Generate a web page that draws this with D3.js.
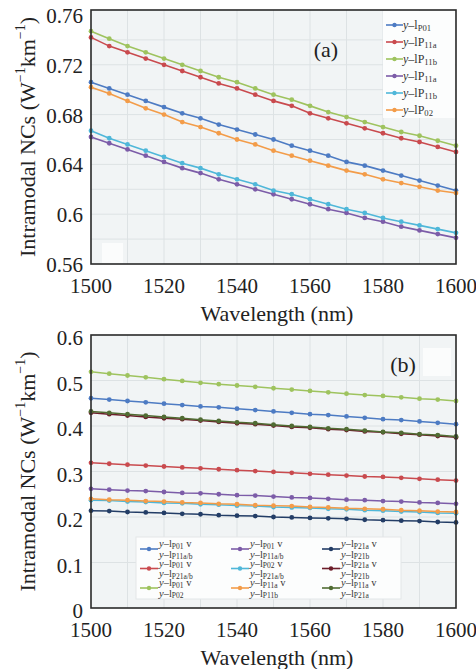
<!DOCTYPE html>
<html>
<head>
<meta charset="utf-8">
<script src="https://cdn.jsdelivr.net/npm/d3@7"></script>
</head>
<body style="margin:0; background:#fff">
<svg id="chart" width="476" height="669" style="display:block"></svg>
<script>
// wavelength samples (nm)
const wavelength = [1500, 1505, 1510, 1515, 1520, 1525, 1530, 1535, 1540, 1545, 1550,
  1555, 1560, 1565, 1570, 1575, 1580, 1585, 1590, 1595, 1600];
const xTicks = [1500, 1520, 1540, 1560, 1580, 1600];
const yTicksA = [0.56, 0.6, 0.64, 0.68, 0.72, 0.76];
const yTicksB = [0, 0.1, 0.2, 0.3, 0.4, 0.5, 0.6];

// panel (a)
const a_P01 = [0.706, 0.701, 0.696, 0.691, 0.686, 0.681, 0.677, 0.672, 0.668, 0.664, 0.660,
  0.655, 0.651, 0.647, 0.642, 0.639, 0.635, 0.631, 0.627, 0.623, 0.619];
const a_P11a = [0.742, 0.735, 0.730, 0.725, 0.720, 0.715, 0.710, 0.705, 0.701, 0.696, 0.691,
  0.687, 0.681, 0.677, 0.673, 0.669, 0.665, 0.661, 0.658, 0.654, 0.650];
const a_P11b = [0.747, 0.741, 0.735, 0.730, 0.725, 0.720, 0.715, 0.710, 0.706, 0.701, 0.696,
  0.692, 0.687, 0.682, 0.678, 0.674, 0.670, 0.666, 0.663, 0.659, 0.655];
const a_P11a2 = [0.662, 0.657, 0.652, 0.647, 0.642, 0.637, 0.633, 0.628, 0.624, 0.620, 0.616,
  0.612, 0.608, 0.604, 0.601, 0.597, 0.594, 0.590, 0.587, 0.584, 0.581];
const a_P11b2 = [0.667, 0.661, 0.656, 0.651, 0.646, 0.641, 0.637, 0.632, 0.628, 0.624, 0.619,
  0.616, 0.612, 0.608, 0.604, 0.601, 0.597, 0.594, 0.591, 0.588, 0.585];
const a_P02 = [0.702, 0.697, 0.691, 0.685, 0.680, 0.674, 0.670, 0.665, 0.660, 0.656, 0.651,
  0.647, 0.643, 0.639, 0.635, 0.632, 0.628, 0.625, 0.622, 0.619, 0.617];

// panel (b)
const b_P01_P11ab = [0.461, 0.458, 0.455, 0.452, 0.449, 0.446, 0.443, 0.441, 0.438, 0.435, 0.432,
  0.429, 0.426, 0.424, 0.421, 0.418, 0.415, 0.413, 0.410, 0.407, 0.404];
const b_P01_P21ab = [0.319, 0.317, 0.315, 0.313, 0.311, 0.309, 0.307, 0.305, 0.303, 0.301, 0.299,
  0.297, 0.295, 0.293, 0.291, 0.289, 0.288, 0.286, 0.284, 0.282, 0.280];
const b_P01_P02 = [0.519, 0.515, 0.511, 0.507, 0.503, 0.499, 0.495, 0.492, 0.489, 0.486, 0.483,
  0.480, 0.477, 0.474, 0.471, 0.468, 0.466, 0.463, 0.460, 0.458, 0.455];
const b_P01_P11ab2 = [0.262, 0.260, 0.258, 0.257, 0.255, 0.253, 0.252, 0.250, 0.248, 0.247, 0.245,
  0.243, 0.242, 0.240, 0.238, 0.237, 0.235, 0.234, 0.232, 0.231, 0.229];
const b_P02_P21ab = [0.237, 0.236, 0.234, 0.233, 0.231, 0.230, 0.228, 0.227, 0.225, 0.224, 0.222,
  0.221, 0.220, 0.218, 0.217, 0.215, 0.214, 0.212, 0.211, 0.209, 0.208];
const b_P11a_P11b = [0.240, 0.238, 0.237, 0.235, 0.234, 0.232, 0.231, 0.229, 0.228, 0.226, 0.225,
  0.224, 0.222, 0.221, 0.219, 0.218, 0.217, 0.215, 0.214, 0.212, 0.211];
const b_P21a_P21b = [0.214, 0.213, 0.211, 0.210, 0.209, 0.207, 0.206, 0.204, 0.203, 0.202, 0.200,
  0.199, 0.198, 0.197, 0.196, 0.194, 0.193, 0.192, 0.191, 0.189, 0.188];
const b_P21a_P21b2 = [0.429, 0.426, 0.423, 0.420, 0.417, 0.415, 0.412, 0.409, 0.406, 0.404, 0.401,
  0.398, 0.396, 0.393, 0.391, 0.388, 0.386, 0.383, 0.381, 0.378, 0.375];
const b_P11a_P21a = [0.432, 0.429, 0.426, 0.423, 0.420, 0.417, 0.414, 0.411, 0.408, 0.406, 0.403,
  0.400, 0.398, 0.395, 0.393, 0.390, 0.387, 0.385, 0.382, 0.380, 0.377];

// legend labels
const legendA = [["l", "P01"], ["lP", "11a"], ["lP", "11b"], ["lP", "11a"], ["lP", "11b"], ["lP", "02"]];
const legendB = [["P01", "P11a/b"], ["P01", "P21a/b"], ["P01", "P02"],
  ["P01", "P11a/b"], ["P02", "P21a/b"], ["P11a", "P11b"],
  ["P21a", "P21b"], ["P21a", "P21b"], ["P11a", "P21a"]];

const C = {
  blue: "#4d7bc3", red: "#c94a4e", green: "#9ec35e", purple: "#7c5ca8",
  cyan: "#4fb7d9", orange: "#f39c49", navy: "#233d66", darkred: "#6c1d2a", olive: "#506c33"
};

const seriesA = [
  {values: a_P01, color: C.blue, label: legendA[0]},
  {values: a_P11a, color: C.red, label: legendA[1]},
  {values: a_P11b, color: C.green, label: legendA[2]},
  {values: a_P11a2, color: C.purple, label: legendA[3]},
  {values: a_P11b2, color: C.cyan, label: legendA[4]},
  {values: a_P02, color: C.orange, label: legendA[5]}
];
const seriesB = [
  {values: b_P01_P11ab, color: C.blue, label: legendB[0]},
  {values: b_P01_P21ab, color: C.red, label: legendB[1]},
  {values: b_P01_P02, color: C.green, label: legendB[2]},
  {values: b_P01_P11ab2, color: C.purple, label: legendB[3]},
  {values: b_P02_P21ab, color: C.cyan, label: legendB[4]},
  {values: b_P11a_P11b, color: C.orange, label: legendB[5]},
  {values: b_P21a_P21b, color: C.navy, label: legendB[6]},
  {values: b_P21a_P21b2, color: C.darkred, label: legendB[7]},
  {values: b_P11a_P21a, color: C.olive, label: legendB[8]}
];

const svg = d3.select("#chart");
const left = 91, right = 456;
const x = d3.scaleLinear().domain([1500, 1600]).range([left, right]);

function drawPanel(cfg) {
  const y = d3.scaleLinear().domain(cfg.yDomain).range([cfg.bottom, cfg.top]);
  const g = svg.append("g");

  g.append("rect")
    .attr("x", left).attr("y", cfg.top)
    .attr("width", right - left).attr("height", cfg.bottom - cfg.top)
    .attr("fill", "#f1f4f5");

  // white patches in the original scan
  cfg.patches.forEach(p => {
    g.append("rect").attr("x", p[0]).attr("y", p[1]).attr("width", p[2]).attr("height", p[3])
      .attr("fill", "#fbfcfc");
  });

  g.selectAll("line.vgrid")
    .data(d3.range(1510, 1600, 10))
    .join("line")
    .attr("x1", d => x(d)).attr("x2", d => x(d))
    .attr("y1", cfg.top).attr("y2", cfg.bottom)
    .attr("stroke", "#dde2e4").attr("stroke-width", 1);

  g.selectAll("line.hgrid")
    .data(cfg.grid)
    .join("line")
    .attr("x1", left).attr("x2", right)
    .attr("y1", d => y(d)).attr("y2", d => y(d))
    .attr("stroke", "#dde2e4").attr("stroke-width", 1);

  const line = d3.line().x((d, i) => x(wavelength[i])).y(d => y(d));

  cfg.series.forEach(s => {
    g.append("path")
      .attr("d", line(s.values))
      .attr("fill", "none")
      .attr("stroke", s.color)
      .attr("stroke-width", cfg.lw);
    g.selectAll(null)
      .data(s.values)
      .join("circle")
      .attr("cx", (d, i) => x(wavelength[i]))
      .attr("cy", d => y(d))
      .attr("r", 2.4)
      .attr("fill", s.color);
  });

  g.append("rect")
    .attr("x", left).attr("y", cfg.top)
    .attr("width", right - left).attr("height", cfg.bottom - cfg.top)
    .attr("fill", "none").attr("stroke", "#2a2a2a").attr("stroke-width", 1.6);

  // y tick labels
  g.selectAll("text.ytick")
    .data(cfg.yTicks)
    .join("text")
    .attr("x", left - 8)
    .attr("y", d => y(d) + cfg.yLabelShift)
    .attr("text-anchor", "end")
    .attr("dominant-baseline", "central")
    .attr("font-size", 21)
    .attr("fill", "#222")
    .text(d => cfg.fmt(d));

  // x tick labels
  g.selectAll("text.xtick")
    .data(xTicks)
    .join("text")
    .attr("x", d => x(d))
    .attr("y", cfg.bottom + 22)
    .attr("text-anchor", "middle")
    .attr("dominant-baseline", "central")
    .attr("font-size", 21)
    .attr("fill", "#222")
    .text(d => d);

  g.append("text")
    .attr("x", 277)
    .attr("y", cfg.bottom + 49)
    .attr("text-anchor", "middle")
    .attr("dominant-baseline", "central")
    .attr("font-size", 22)
    .attr("fill", "#222")
    .text("Wavelength (nm)");

  const yt = g.append("text")
    .attr("transform", `translate(27,${(cfg.top + cfg.bottom) / 2}) rotate(-90)`)
    .attr("text-anchor", "middle")
    .attr("dominant-baseline", "central")
    .attr("font-size", 22)
    .attr("fill", "#222");
  yt.append("tspan").text("Intramodal NCs (W");
  yt.append("tspan").attr("font-size", 14).attr("dy", -7).text("−1");
  yt.append("tspan").attr("dy", 7).text("km");
  yt.append("tspan").attr("font-size", 14).attr("dy", -7).text("−1");
  yt.append("tspan").attr("dy", 7).text(")");

  g.append("text")
    .attr("x", cfg.tag[0]).attr("y", cfg.tag[1])
    .attr("text-anchor", "middle")
    .attr("dominant-baseline", "central")
    .attr("font-size", 22)
    .attr("fill", "#222")
    .text(cfg.tag[2]);

  return {g, y};
}

function labelText(sel, pre, sub, tail) {
  sel.append("tspan").attr("font-style", "italic").text("y");
  sel.append("tspan").text("–" + pre);
  sel.append("tspan").attr("font-size", "0.72em").attr("dy", 1.5).text(sub);
  if (tail) sel.append("tspan").attr("dy", -1.5).text(tail);
}

// panel (a)
const pa = drawPanel({
  series: seriesA, yDomain: [0.56, 0.764], top: 10, bottom: 264,
  yTicks: yTicksA, grid: [0.58, 0.6, 0.62, 0.64, 0.66, 0.68, 0.7, 0.72, 0.74],
  fmt: d => d === 0.6 ? "0.6" : d3.format(".2f")(d), yLabelShift: 1, lw: 1.6,
  patches: [[102, 243, 21, 20]], tag: [326, 49, "(a)"]
});

const legA = pa.g.append("g");
legA.append("rect").attr("x", 383).attr("y", 11).attr("width", 72).attr("height", 107)
  .attr("fill", "#fcfdfd");
seriesA.forEach((s, i) => {
  const yy = 25 + i * 17;
  legA.append("line").attr("x1", 386).attr("x2", 403).attr("y1", yy).attr("y2", yy)
    .attr("stroke", s.color).attr("stroke-width", 1.6);
  legA.append("circle").attr("cx", 394.5).attr("cy", yy).attr("r", 2.2).attr("fill", s.color);
  const t = legA.append("text").attr("x", 403).attr("y", yy + 4)
    .attr("font-size", 12).attr("fill", "#333");
  labelText(t, s.label[0], s.label[1]);
});

// panel (b)
const pb = drawPanel({
  series: seriesB, yDomain: [0, 0.6], top: 335, bottom: 608,
  yTicks: yTicksB, grid: [0.1, 0.2, 0.3, 0.4, 0.5],
  fmt: d => d === 0 ? "0" : d3.format(".1f")(d), yLabelShift: 3, lw: 1.5,
  patches: [[423, 348, 28, 28]], tag: [403, 364, "(b)"]
});

const legB = pb.g.append("g");
legB.append("rect").attr("x", 136).attr("y", 537).attr("width", 265).attr("height", 62)
  .attr("fill", "#fcfdfd").attr("stroke", "#e3e6e8");
seriesB.forEach((s, i) => {
  const col = Math.floor(i / 3), row = i % 3;
  const lx = 140 + col * 91;
  const ly = 549 + row * 19.5;
  legB.append("line").attr("x1", lx).attr("x2", lx + 18).attr("y1", ly).attr("y2", ly)
    .attr("stroke", s.color).attr("stroke-width", 1.6);
  legB.append("circle").attr("cx", lx + 9).attr("cy", ly).attr("r", 2.2).attr("fill", s.color);
  const t1 = legB.append("text").attr("x", lx + 19).attr("y", ly - 2)
    .attr("font-size", 10.5).attr("fill", "#333");
  labelText(t1, "l", s.label[0], "  v");
  const t2 = legB.append("text").attr("x", lx + 19).attr("y", ly + 8.5)
    .attr("font-size", 10.5).attr("fill", "#333");
  labelText(t2, "l", s.label[1]);
});

svg.selectAll("text")
  .attr("font-family", "Liberation Serif")
  .style("font-family", '"Liberation Serif"');
</script>
</body>
</html>
